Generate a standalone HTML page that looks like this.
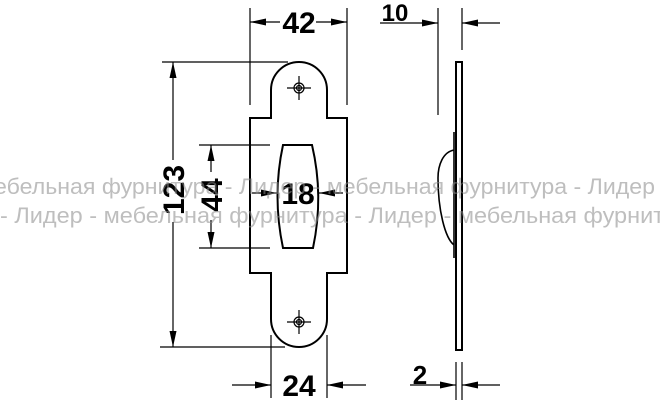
<!DOCTYPE html>
<html><head><style>body{margin:0;background:#fff}svg{display:block}</style></head><body>
<svg width="660" height="400" viewBox="0 0 660 400" xmlns="http://www.w3.org/2000/svg" font-family="Liberation Sans, sans-serif">
<defs>
<marker id="b" viewBox="0 0 16 7" refX="16" refY="3.5" markerWidth="16" markerHeight="7" markerUnits="userSpaceOnUse" orient="auto"><path d="M0 0L16 3.5L0 7z"/></marker></defs>
<g stroke="#000" fill="none" stroke-width="1.2">
<path d="M250 118H271V90A28 28 0 0 1 327 90V118H347V273H327V319A28 28 0 0 1 271 319V273H250Z" stroke-width="2"/>
<path d="M283 145H312Q324 196 313 248H283Q272 196 283 145Z" stroke-width="2"/>
<circle cx="299" cy="88" r="5"/><circle cx="299" cy="88" r="2.5"/><path d="M287 88H311M299 76V100"/>
<circle cx="299" cy="322" r="5"/><circle cx="299" cy="322" r="2.5"/><path d="M287 322H311M299 310V334"/>
<path d="M250 8V105M347 8V105M162 62H288M160 347H285M199 145H270M199 248H270M271 335V398M327 335V398"/>
</g>
<g stroke="#000" fill="none" stroke-width="1.2" marker-end="url(#b)">
<path d="M280 22H250"/><path d="M316 22H347"/>
<path d="M173 160V62"/><path d="M173 222V347"/>
<path d="M211 172V145"/><path d="M211 220V248"/>
<path d="M252 193H277"/><path d="M343 193H319"/>
<path d="M232 385H271"/><path d="M366 385H327"/>
<path d="M380 23H438"/><path d="M500 23H462"/>
<path d="M410 385H456"/><path d="M500 385H462"/>
</g>
<g stroke="#000" fill="none" stroke-width="1.2">
<rect x="456" y="62" width="6" height="288" stroke-width="2"/>
<path d="M454 132V258M454 150C443 152 438 165 438 178C438 210 445 238 454 245" stroke-width="1.6"/>
<path d="M438 8V115M462 8V50M456 362V400M462 362V400"/>
</g>
<g font-weight="bold" font-size="30" text-anchor="middle">
<text x="299" y="33">42</text>
<text x="298" y="204">18</text>
<text x="299" y="396">24</text>
<text x="395" y="21" font-size="24">10</text>
<text x="420" y="384" font-size="26">2</text>
<text transform="translate(184 190) rotate(-90)">123</text>
<text transform="translate(222 195) rotate(-90)">44</text>
</g>
<g fill="#888" fill-opacity="0.55" font-size="22">
<text x="-6" y="194" textLength="661" lengthAdjust="spacingAndGlyphs">ебельная фурнитура - Лидер - мебельная фурнитура - Лидер</text>
<text x="0" y="223" textLength="664" lengthAdjust="spacingAndGlyphs">- Лидер - мебельная фурнитура - Лидер - мебельная фурнит</text>
</g>
</svg>
</body></html>
